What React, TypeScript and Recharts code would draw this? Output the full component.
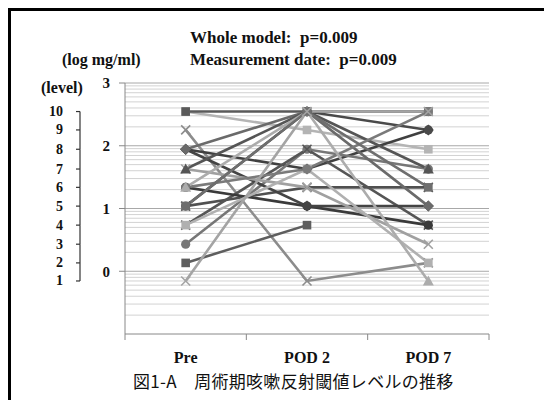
import React from 'react';
import { LineChart, Line, XAxis, YAxis, ReferenceLine } from 'recharts';

// ---- data ----
const categories = ['Pre', 'POD 2', 'POD 7'];
const levelLabels = ['1', '2', '3', '4', '5', '6', '7', '8', '9', '10'];
// log10(mg/ml) value of each level
const levelLog = [-0.155, 0.133, 0.431, 0.735, 1.038, 1.337, 1.629, 1.944, 2.252, 2.545];
const majorTicks = [0, 1, 2, 3];
const majorGrid = [0, 1, 2, 3];
const minorGridConc = [0.2, 0.3, 0.4, 0.5, 0.6, 0.7, 0.8, 0.9, 2, 3, 4, 5, 6, 7, 8, 9, 20, 30, 40, 50, 60, 70, 80, 90, 200, 300, 400, 500, 600, 700, 800, 900];

// levels of each patient (series), in drawing order
const preLevels = [10, 10, 9, 8, 5, 5, 3, 4, 6, 8, 8, 7, 7, 4, 6, 6, 5, 2, 1];
const pod2Levels = [9, 10, 1, 7, 6, 10, 8, 8, 5, 5, 10, 6, 10, 7, 7, 10, 10, 4, 10];
const pod7Levels: (number | null)[] = [8, 10, 2, 9, 6, 9, 7, 4, 4, 5, 5, 3, 7, 2, 10, 1, 6, null, 10];

// styles per series
const seriesColors = ['#b4b4b4', '#5a5a5a', '#8c8c8c', '#404040', '#505050', '#4a4a4a', '#767676', '#555555', '#3a3a3a', '#444444', '#6a6a6a', '#a0a0a0', '#555555', '#b0b0b0', '#7a7a7a', '#acacac', '#6e6e6e', '#5e5e5e', '#a4a4a4'];
const seriesMarkers = ['square', 'square', 'x', 'diamond', 'x', 'circle', 'circle', 'x', 'circle', 'diamond', 'diamond', 'x', 'triangle', 'square', 'circle', 'triangle', 'square', 'square', 'x'];

const toLog = (lv: number | null) => (lv == null ? null : levelLog[lv - 1]);

const levelsByCat = [preLevels, pod2Levels, pod7Levels];
const data = categories.map((cat, ci) => {
  const row: Record<string, any> = { cat };
  levelsByCat[ci].forEach((lv, si) => {
    row['s' + si] = toLog(lv);
  });
  return row;
});

// ---- layout ----
const W = 544;
const H = 400;
const X_AXIS_H = 30;
const M = { top: 83, right: 55, bottom: 36, left: 35 };
const PLOT_H = H - M.top - M.bottom - X_AXIS_H;
const PLOT_W = W - M.left - 90 - M.right;
const Y_DOMAIN: [number, number] = [-1, 3];
const PX_PER_UNIT = PLOT_H / (Y_DOMAIN[1] - Y_DOMAIN[0]);
const LVL_TICK = 4;
const LVL_MARGIN = 13;
const X_TICK = 6;
const X_MARGIN = 17;

const serif = '"Liberation Serif", "Times New Roman", serif';

const makeDot = (shape: string, color: string) => (props: any) => {
  const { cx, cy, index, value } = props;
  const key = 'd' + index;
  if (cx == null || cy == null || value == null) return <g key={key} />;
  const s = 4.3;
  if (shape === 'square') return <rect key={key} x={cx - s} y={cy - s} width={2 * s} height={2 * s} fill={color} />;
  if (shape === 'circle') return <circle key={key} cx={cx} cy={cy} r={s + 0.3} fill={color} />;
  if (shape === 'diamond')
    return <polygon key={key} points={`${cx},${cy - 5.5} ${cx + 5.5},${cy} ${cx},${cy + 5.5} ${cx - 5.5},${cy}`} fill={color} />;
  if (shape === 'triangle')
    return <polygon key={key} points={`${cx},${cy - 5.5} ${cx + 5.5},${cy + 4.5} ${cx - 5.5},${cy + 4.5}`} fill={color} />;
  return (
    <g key={key} stroke={color} strokeWidth={1.6}>
      <line x1={cx - 4.5} y1={cy - 4.5} x2={cx + 4.5} y2={cy + 4.5} />
      <line x1={cx - 4.5} y1={cy + 4.5} x2={cx + 4.5} y2={cy - 4.5} />
    </g>
  );
};

const LevelTick = (props: any) => {
  const { x, y, payload } = props;
  const i = levelLog.indexOf(payload.value);
  const bx = x + LVL_MARGIN + LVL_TICK;
  const next = i >= 0 && i < levelLog.length - 1 ? (levelLog[i + 1] - levelLog[i]) * PX_PER_UNIT : 0;
  return (
    <g>
      <text x={x} y={y} textAnchor="end" dominantBaseline="central" fontFamily={serif} fontWeight="bold" fontSize={14} fill="#111">
        {levelLabels[i]}
      </text>
      {next > 0 && <line x1={bx} y1={y} x2={bx} y2={y - next} stroke="#333" strokeWidth={1.2} />}
    </g>
  );
};

const XTick = (props: any) => {
  const { x, y, payload, index } = props;
  const bw = PLOT_W / categories.length;
  const ay = y - X_TICK - X_MARGIN;
  return (
    <g>
      <text x={x} y={y} textAnchor="middle" dominantBaseline="central" fontFamily={serif} fontWeight="bold" fontSize={16} fill="#111">
        {payload.value}
      </text>
      <line x1={x - bw / 2} y1={ay} x2={x - bw / 2} y2={ay + X_TICK} stroke="#888" />
      {index === categories.length - 1 && <line x1={x + bw / 2} y1={ay} x2={x + bw / 2} y2={ay + X_TICK} stroke="#888" />}
    </g>
  );
};

const textStyle: React.CSSProperties = {
  position: 'absolute',
  fontFamily: serif,
  fontWeight: 'bold',
  fontSize: 17,
  lineHeight: '18px',
  whiteSpace: 'pre',
  color: '#111',
  zIndex: 3,
};

export default function App() {
  return (
    <div style={{ position: 'absolute', left: 0, top: 0, width: W, height: H, background: '#fff', overflow: 'hidden' }}>
      <div style={{ position: 'absolute', left: 0, top: 0 }}>
        <LineChart width={W} height={H} data={data} margin={M}>
          <XAxis
            dataKey="cat"
            scale="band"
            height={X_AXIS_H}
            axisLine={{ stroke: '#888' }}
            tickLine={false}
            tickSize={X_TICK}
            tickMargin={X_MARGIN}
            tick={<XTick />}
            interval={0}
          />
          <YAxis
            yAxisId="a"
            orientation="left"
            width={45}
            type="number"
            domain={Y_DOMAIN}
            ticks={majorTicks}
            interval={0}
            allowDataOverflow
            axisLine={{ stroke: '#888' }}
            tickLine={{ stroke: '#888' }}
            tickSize={6}
            tickMargin={9}
            tick={{ fontFamily: serif, fontWeight: 'bold', fontSize: 15, fill: '#111' }}
          />
          <YAxis
            yAxisId="b"
            orientation="left"
            width={45}
            type="number"
            domain={Y_DOMAIN}
            allowDataOverflow
            ticks={levelLog}
            interval={0}
            axisLine={false}
            tickLine={{ stroke: '#333', strokeWidth: 1.2 }}
            tickSize={LVL_TICK}
            tickMargin={LVL_MARGIN}
            tick={<LevelTick />}
          />
          {minorGridConc.map((c) => (
            <ReferenceLine key={'mg' + c} yAxisId="a" y={Math.log10(c)} stroke="#d2d2d2" strokeWidth={1} />
          ))}
          {majorGrid.map((v) => (
            <ReferenceLine key={'Mg' + v} yAxisId="a" y={v} stroke="#a8a8a8" strokeWidth={1} />
          ))}
          {preLevels.map((_, si) => (
            <Line
              key={'s' + si}
              yAxisId="a"
              dataKey={'s' + si}
              type="linear"
              stroke={seriesColors[si]}
              strokeWidth={2.6}
              dot={makeDot(seriesMarkers[si], seriesColors[si])}
              activeDot={false}
              isAnimationActive={false}
            />
          ))}
        </LineChart>
      </div>
      <svg width={W} height={H} style={{ position: 'absolute', left: 0, top: 0, zIndex: 6, pointerEvents: 'none' }}>
        <path d={`M9.5 ${H} V9.5 H${W}`} stroke="#000" strokeWidth={3} fill="none" />
      </svg>
      <div style={{ ...textStyle, left: 190, top: 29 }}>{'Whole model:  p=0.009'}</div>
      <div style={{ ...textStyle, left: 190, top: 51 }}>{'Measurement date:  p=0.009'}</div>
      <div style={{ ...textStyle, fontSize: 16, left: 62, top: 51 }}>{'(log mg/ml)'}</div>
      <div style={{ ...textStyle, fontSize: 16, left: 41, top: 79 }}>{'(level)'}</div>
      <div
        style={{
          position: 'absolute',
          left: 133,
          top: 371,
          fontFamily: '"Noto Sans CJK JP", sans-serif',
          fontSize: 17,
          letterSpacing: 0.3,
          lineHeight: '20px',
          whiteSpace: 'pre',
          color: '#111',
          zIndex: 3,
        }}
      >
        {'図1-A　周術期咳嗽反射閾値レベルの推移'}
      </div>
    </div>
  );
}
